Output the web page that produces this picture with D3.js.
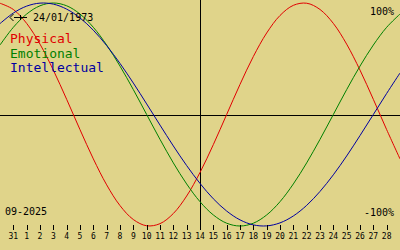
<!DOCTYPE html>
<html>
  <head>
    <meta charset="utf-8">
    <script src="https://cdn.jsdelivr.net/npm/d3@7"></script>
    <style>
      body { margin: 0; background: #e0d48a; }
      text { font-family: 'DejaVu Sans Mono', monospace; fill: #000; }
      .curve { fill: none; stroke-width: 1; }
      .axisline { shape-rendering: crispEdges; }
    </style>
  </head>
  <body>
    <svg width="400" height="250"></svg>
    <script>
      // day offsets 0..30 (30 Aug .. 29 Sep 2025), today = offset 15
      var days = d3.range(0, 31);
      var physical = [0.998, 0.942, 0.817, 0.631, 0.398, 0.136, -0.136, -0.398, -0.631, -0.817,
        -0.942, -0.998, -0.979, -0.888, -0.731, -0.520, -0.270, 0, 0.270, 0.520,
        0.731, 0.888, 0.979, 0.998, 0.942, 0.817, 0.631, 0.398, 0.136, -0.136, -0.398];
      var emotional = [0.623, 0.782, 0.901, 0.975, 1, 0.975, 0.901, 0.782, 0.623, 0.434,
        0.223, 0, -0.223, -0.434, -0.623, -0.782, -0.901, -0.975, -1, -0.975,
        -0.901, -0.782, -0.623, -0.434, -0.223, 0, 0.223, 0.434, 0.623, 0.782, 0.901];
      var intellectual = [0.815, 0.910, 0.972, 0.999, 0.990, 0.945, 0.866, 0.756, 0.618, 0.458,
        0.282, 0.095, -0.095, -0.282, -0.458, -0.618, -0.756, -0.866, -0.945, -0.990,
        -0.999, -0.972, -0.910, -0.815, -0.690, -0.541, -0.372, -0.189, 0, 0.189, 0.372];
      var tickDays = d3.range(1, 30);
      var tickLabels = ['31', '1', '2', '3', '4', '5', '6', '7', '8', '9', '10', '11', '12', '13', '14',
        '15', '16', '17', '18', '19', '20', '21', '22', '23', '24', '25', '26', '27', '28'];
      var todayOffset = 15;
      var birthDate = '24/01/1973';
      var monthLabel = '09-2025';
      var series = [
        { name: 'Physical', values: physical, color: '#e00000' },
        { name: 'Emotional', values: emotional, color: '#008000' },
        { name: 'Intellectual', values: intellectual, color: '#0000a0' }
      ];

      var svg = d3.select('svg');
      var width = 400;

      var x = d3.scaleLinear().domain([0, 30]).range([0, width]);
      var y = d3.scaleLinear().domain([-1, 1]).range([226, 3]);

      svg.append('rect').attr('width', 400).attr('height', 250).attr('fill', '#e0d48a');

      // axes cross
      svg.append('line')
          .attr('class', 'axisline')
          .attr('x1', 0).attr('x2', width)
          .attr('y1', Math.round(y(0)) + 0.5).attr('y2', Math.round(y(0)) + 0.5)
          .attr('stroke', '#000');
      svg.append('line')
          .attr('class', 'axisline')
          .attr('x1', x(todayOffset) + 0.5).attr('x2', x(todayOffset) + 0.5)
          .attr('y1', 0).attr('y2', 229)
          .attr('stroke', '#000');

      var line = d3.line()
        .x(function (d, i) { return x(days[i]); })
        .y(function (d) { return y(d); })
        .curve(d3.curveCatmullRom);

      svg.selectAll('path.curve').data(series)
        .enter().append('path')
          .attr('class', 'curve')
          .attr('stroke', function (d) { return d.color; })
          .attr('d', function (d) { return line(d.values); });

      // day ticks
      var ticks = svg.append('g');
      ticks.selectAll('line').data(tickDays)
        .enter().append('line')
          .attr('class', 'axisline')
          .attr('x1', function (d) { return Math.round(x(d)) + 0.5; })
          .attr('x2', function (d) { return Math.round(x(d)) + 0.5; })
          .attr('y1', 225).attr('y2', 230)
          .attr('stroke', '#000');
      ticks.selectAll('text').data(tickDays)
        .enter().append('text')
          .attr('x', function (d) { return x(d); })
          .attr('y', 239)
          .attr('text-anchor', 'middle')
          .style('font-size', '8px')
          .text(function (d, i) { return tickLabels[i]; });

      // birth date marker
      svg.append('path')
          .attr('d', 'M13.5,14 L10,17.5 L13.5,21 M14,17.5 L27,17.5 M20.5,15 L20.5,20')
          .attr('fill', 'none').attr('stroke', '#000');
      svg.append('text').attr('x', 33).attr('y', 21)
          .style('font-size', '10px').text(birthDate);

      svg.selectAll('text.legend').data(series)
        .enter().append('text')
          .attr('class', 'legend')
          .attr('x', 10)
          .attr('y', function (d, i) { return 43 + i * 14.5; })
          .style('font-size', '13px')
          .style('fill', function (d) { return d.color; })
          .text(function (d) { return d.name; });

      svg.append('text').attr('x', 394).attr('y', 15).attr('text-anchor', 'end')
          .style('font-size', '10px').text('100%');
      svg.append('text').attr('x', 394).attr('y', 216).attr('text-anchor', 'end')
          .style('font-size', '10px').text('-100%');
      svg.append('text').attr('x', 5).attr('y', 215)
          .style('font-size', '10px').text(monthLabel);
    </script>
  </body>
</html>
